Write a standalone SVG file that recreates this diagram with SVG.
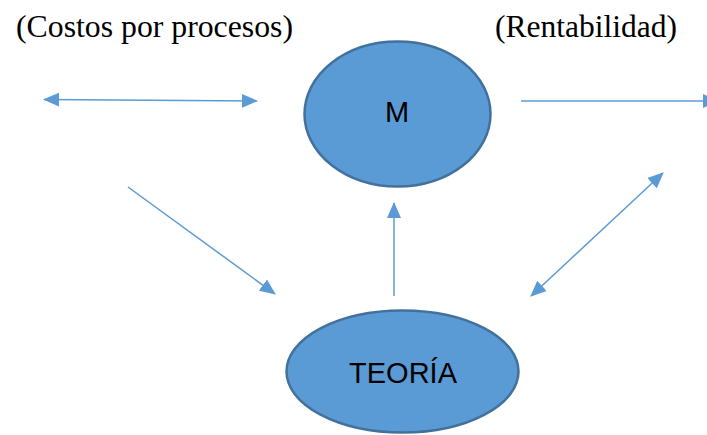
<svg xmlns="http://www.w3.org/2000/svg" width="707" height="435" viewBox="0 0 707 435">
<style>
.node{fill:#5B9BD5;stroke:#41719C;stroke-width:2.5}
.lbl{font-family:"Liberation Sans",Arial,sans-serif;fill:#000;text-anchor:middle}
.cap{font-family:"Liberation Serif","Times New Roman",serif;fill:#000;font-size:31px}
.conn{stroke:#5B9BD5;stroke-width:1.5;fill:none}
</style>
<defs>
<marker id="ah" markerUnits="userSpaceOnUse" markerWidth="16" markerHeight="16" viewBox="0 0 16 16" refX="15" refY="8" orient="auto-start-reverse">
<path d="M0,1 L16,8 L0,15 Z" fill="#5B9BD5"/>
</marker>
</defs>
<rect width="707" height="435" fill="#fff"/>
<text class="cap" x="16" y="37" textLength="277" lengthAdjust="spacingAndGlyphs">(Costos por procesos)</text>
<text class="cap" x="495" y="37" textLength="182" lengthAdjust="spacingAndGlyphs">(Rentabilidad)</text>
<g id="connectors">
<line class="conn" x1="44" y1="99.5" x2="257" y2="101" marker-start="url(#ah)" marker-end="url(#ah)"/>
<line class="conn" x1="521" y1="101" x2="718" y2="101" marker-end="url(#ah)"/>
<line class="conn" x1="128" y1="187" x2="275" y2="294" marker-end="url(#ah)"/>
<line class="conn" x1="394" y1="296" x2="394" y2="203" marker-end="url(#ah)"/>
<line class="conn" x1="531" y1="296" x2="663" y2="173" marker-start="url(#ah)" marker-end="url(#ah)"/>
</g>
<g id="node-m">
<ellipse class="node" cx="397.5" cy="114" rx="93" ry="72.5"/>
<text class="lbl" x="397" y="122" font-size="29">M</text>
</g>
<g id="node-teoria">
<ellipse class="node" cx="402.5" cy="371.5" rx="116" ry="61"/>
<text class="lbl" x="403" y="383" font-size="29">TEORÍA</text>
</g>
</svg>
